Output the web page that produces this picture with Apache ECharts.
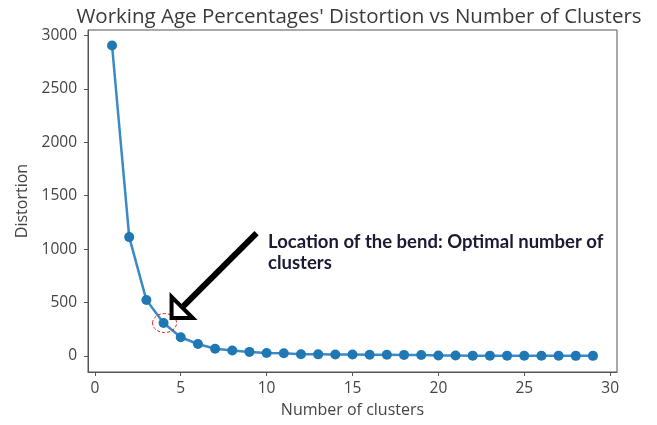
<!DOCTYPE html>
<html><head><meta charset="utf-8">
<script src="https://cdn.jsdelivr.net/npm/echarts@6/dist/echarts.min.js"></script>
<style>html,body{margin:0;padding:0;background:#fff}#c{width:657px;height:425px}</style>
</head><body><div id="c"></div>
<script>
const clusters = [1,2,3,4,5,6,7,8,9,10,11,12,13,14,15,16,17,18,19,20,21,22,23,24,25,26,27,28,29];
const distortion = [2905,1112,523,308,175,112,68,52,38,28,26,16,15,14,13,12,11,10,9,4,4,3,3,3,2,2,2,1,1];
const xTicks = [0,5,10,15,20,25,30];
const yTicks = [0,500,1000,1500,2000,2500,3000];
const titleText = "Working Age Percentages' Distortion vs Number of Clusters";
const noteLines = ["Location of the bend: Optimal number of", "clusters"];
const bendIndex = 3;

const chart = echarts.init(document.getElementById('c'), null, {renderer:'canvas'});
const font = 'Open Sans';
chart.setOption({
  animation:false,
  title:{text:titleText,left:354,top:2,textAlign:'center',textStyle:{fontFamily:font,fontSize:20.5,fontWeight:'normal',color:'#3a3a3a'}},
  grid:{left:88,right:40,top:30,bottom:53,show:true,borderColor:'#555',borderWidth:1},
  xAxis:{type:'value',min:-0.4,max:30.4,
    name:'Number of clusters',nameLocation:'middle',nameGap:30,nameTextStyle:{fontFamily:font,fontSize:16,color:'#444'},
    axisLine:{onZero:false,lineStyle:{color:'#555'}},
    axisTick:{show:true,customValues:xTicks,length:4,lineStyle:{color:'#555'}},
    axisLabel:{customValues:xTicks,formatter:v=>String(v),fontFamily:font,fontSize:15.5,color:'#444',margin:9},
    splitLine:{show:false}},
  yAxis:{type:'value',min:-150,max:3050,
    name:'Distortion',nameLocation:'middle',nameGap:55,nameTextStyle:{fontFamily:font,fontSize:16,color:'#444'},
    axisLine:{show:true,onZero:false,lineStyle:{color:'#555'}},
    axisTick:{show:true,customValues:yTicks,length:4,lineStyle:{color:'#555'}},
    axisLabel:{customValues:yTicks,formatter:v=>String(v),fontFamily:font,fontSize:15.5,color:'#444',margin:11},
    splitLine:{show:false}},
  series:[{type:'line',data:clusters.map((c,i)=>[c,distortion[i]]),
    symbol:'circle',symbolSize:10,showSymbol:true,
    lineStyle:{color:'#3a8ac6',width:2.5},itemStyle:{color:'#1f77b4'}}]
});

const p = chart.convertToPixel({gridIndex:0},[clusters[bendIndex],distortion[bendIndex]]);
const tip = [p[0]+8, p[1]-5];
const tail = [p[0]+93, p[1]-90];
const ang = Math.atan2(tip[1]-tail[1], tip[0]-tail[0]);
const hl = 15, hw = 15;
const base = [tip[0]-hl*Math.cos(ang), tip[1]-hl*Math.sin(ang)];
const nx = -Math.sin(ang), ny = Math.cos(ang);
chart.setOption({graphic:[
  {type:'ellipse',shape:{cx:p[0]+1,cy:p[1],rx:12,ry:9.5},style:{fill:'none',stroke:'#e02020',lineWidth:1,lineDash:[3,2]},z:10},
  {type:'line',shape:{x1:tail[0],y1:tail[1],x2:base[0],y2:base[1]},style:{stroke:'#000',lineWidth:6},z:10},
  {type:'polygon',shape:{points:[tip,[base[0]+nx*hw,base[1]+ny*hw],[base[0]-nx*hw,base[1]-ny*hw]]},style:{fill:'#fff',stroke:'#000',lineWidth:4,lineJoin:'miter'},z:11},
  {type:'text',left:268,top:232,style:{text:noteLines.join('\n'),fontFamily:'Lato',fontWeight:'bold',fontSize:18.5,lineHeight:21,fill:'#1a1a33'},z:10}
]});
</script></body></html>
